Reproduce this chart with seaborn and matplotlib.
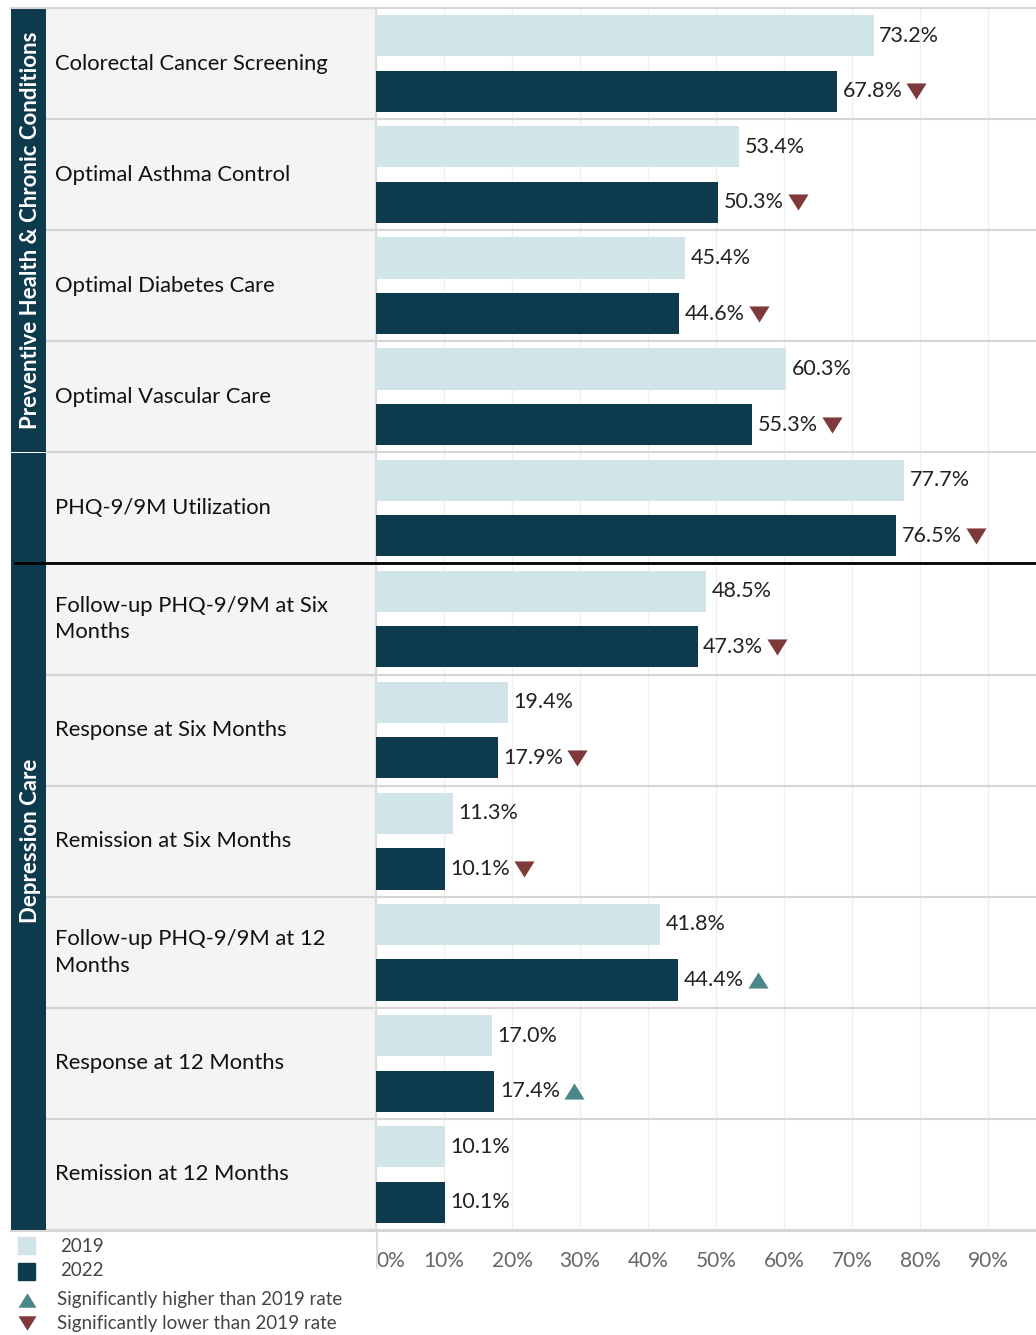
import matplotlib
matplotlib.use("Agg")
import matplotlib.pyplot as plt
from matplotlib.lines import Line2D
from matplotlib.patches import Rectangle
import seaborn as sns
import pandas as pd

# ---- data -------------------------------------------------------------
measures = [
    "Colorectal Cancer Screening",
    "Optimal Asthma Control",
    "Optimal Diabetes Care",
    "Optimal Vascular Care",
    "PHQ-9/9M Utilization",
    "Follow-up PHQ-9/9M at Six\nMonths",
    "Response at Six Months",
    "Remission at Six Months",
    "Follow-up PHQ-9/9M at 12\nMonths",
    "Response at 12 Months",
    "Remission at 12 Months",
]
rate_2019 = [73.2, 53.4, 45.4, 60.3, 77.7, 48.5, 19.4, 11.3, 41.8, 17.0, 10.1]
rate_2022 = [67.8, 50.3, 44.6, 55.3, 76.5, 47.3, 17.9, 10.1, 44.4, 17.4, 10.1]
# significance of the 2022 rate versus 2019: "down", "up" or ""
significance = ["down", "down", "down", "down", "down", "down", "down", "down",
                "up", "up", ""]
sections = ["Preventive Health & Chronic Conditions", "Depression Care"]
section_rows = [(0, 3), (4, 10)]
years = ["2019", "2022"]
x_ticks = [0, 10, 20, 30, 40, 50, 60, 70, 80, 90]

LIGHT = "#d1e5e8"
DARK = "#0e3a4e"
UP = "#4b8789"
DOWN = "#7e3a3a"

df = pd.DataFrame({
    "measure": measures * 2,
    "year": [years[0]] * len(measures) + [years[1]] * len(measures),
    "rate": rate_2019 + rate_2022,
})

# ---- figure layout (pixel based) ---------------------------------------
W, H = 1036, 1335
fig = plt.figure(figsize=(W / 100, H / 100), dpi=100)
FONT = ["Lato", "DejaVu Sans"]
plt.rcParams["font.family"] = FONT

top_px, bot_px = 8, 1230
yb = (H - bot_px) / H
yh = (bot_px - top_px) / H

def px_axes(x0, x1):
    return fig.add_axes([x0 / W, yb, (x1 - x0) / W, yh])

ax_band = px_axes(11, 46)
ax_lab = px_axes(46, 375)
ax = px_axes(376, 1036)

n = len(measures)
ylim = (n - 0.5, -0.5)

# ---- bars -------------------------------------------------------------
sns.barplot(data=df, y="measure", x="rate", hue="year", order=measures,
            hue_order=years, palette=[LIGHT, DARK], saturation=1,
            width=1.0, gap=0.26, linewidth=0, legend=False, ax=ax, zorder=3)

xmax = (1036 - 376) / 6.8
ax.set_xlim(0, xmax)
ax.set_ylim(*ylim)
ax.set_xlabel("")
ax.set_ylabel("")
ax.set_xticks(x_ticks)
ax.set_xticklabels([f"{t}%" for t in x_ticks], fontsize=15, color="#666666")
ax.get_xticklabels()[0].set_horizontalalignment("left")
ax.tick_params(axis="x", length=0, pad=15)
ax.tick_params(axis="y", left=False, labelleft=False)
ax.grid(axis="x", color="#f0f0f0", linewidth=1.0, zorder=0)
ax.grid(axis="y", visible=False)
for s in ["top", "right", "bottom"]:
    ax.spines[s].set_visible(False)
ax.spines["left"].set_color("#d6d6d6")
ax.spines["left"].set_linewidth(1.2)
ax.set_facecolor("white")

# row separators in the chart
for b in [i - 0.5 for i in range(n + 1)]:
    ax.axhline(b, color="#d6d6d6", linewidth=1.5, zorder=4)

# value labels
value_texts = []
for container, vals in zip(ax.containers, [rate_2019, rate_2022]):
    for bar, v in zip(container, vals):
        yc = bar.get_y() + bar.get_height() / 2
        t = ax.annotate(f"{v:.1f}%", xy=(v, yc), xytext=(4, 0),
                        textcoords="offset points", ha="left", va="center",
                        fontsize=15.5, color="#222222", zorder=5)
        value_texts.append(t)

# ---- label panel ------------------------------------------------------
ax_lab.set_facecolor("#f4f4f4")
ax_lab.set_xlim(0, 1)
ax_lab.set_ylim(*ylim)
ax_lab.set_xticks([])
ax_lab.set_yticks([])
for s in ax_lab.spines.values():
    s.set_visible(False)
for i, m in enumerate(measures):
    ax_lab.text(0.027, i, m, ha="left", va="center", fontsize=15.8,
                color="#111111", linespacing=1.42)
for b in [i - 0.5 for i in range(n + 1)]:
    ax_lab.axhline(b, color="#d3d3d3", linewidth=1.6)

# ---- section bands ----------------------------------------------------
ax_band.set_xlim(0, 1)
ax_band.set_ylim(*ylim)
ax_band.axis("off")
for name, (r0, r1) in zip(sections, section_rows):
    y0 = r0 - 0.5 + (0.01 if r0 > 0 else 0)
    ax_band.add_patch(Rectangle((0, y0), 1, r1 + 0.5 - y0, color=DARK,
                                linewidth=0))
    ax_band.text(0.55, (r0 + r1) / 2, name, rotation=90, ha="center",
                 va="center", fontsize=16, fontweight="bold", color="white")

# top / bottom rules across the whole table
def hline_px(y, x0, x1, color, lw):
    fig.add_artist(Line2D([x0 / W, x1 / W], [1 - y / H, 1 - y / H],
                          color=color, linewidth=lw))

hline_px(7.5, 11, 1036, "#d6d6d6", 1.5)
hline_px(1230.5, 11, 1036, "#d6d6d6", 1.5)
# heavy rule between the two groups of depression measures
hline_px(562.5, 15, 1036, "black", 2.0)
# axis stub below the chart
fig.add_artist(Line2D([376.5 / W, 376.5 / W], [1 - 1230 / H, 1 - 1268 / H],
                      color="#d6d6d6", linewidth=1.2))

# ---- significance markers ---------------------------------------------
down_marker = [(-1, 0.8), (1, 0.8), (0, -0.8), (-1, 0.8)]
up_marker = [(-1, -0.8), (1, -0.8), (0, 0.8), (-1, -0.8)]
fig.canvas.draw()
renderer = fig.canvas.get_renderer()
inv = ax.transData.inverted()
dark_bars = ax.containers[1]
for i, (sig, bar) in enumerate(zip(significance, dark_bars)):
    if not sig:
        continue
    t = value_texts[n + i]
    bb = t.get_window_extent(renderer)
    yc = bar.get_y() + bar.get_height() / 2
    xd, _ = inv.transform((bb.x1 + 14, bb.y0))
    ax.plot([xd], [yc], linestyle="none",
            marker=down_marker if sig == "down" else up_marker,
            markersize=14.5, color=DOWN if sig == "down" else UP,
            markeredgewidth=0, zorder=6, clip_on=False)

# ---- legend -----------------------------------------------------------
def fx(x):
    return x / W

def fy(y):
    return 1 - y / H

fig.patches.append(Rectangle((fx(18), fy(1254)), 17 / W, 17 / H,
                             transform=fig.transFigure, color=LIGHT,
                             figure=fig))
fig.patches.append(Rectangle((fx(18), fy(1280)), 17 / W, 17 / H,
                             transform=fig.transFigure, color=DARK,
                             figure=fig))
fig.text(fx(60), fy(1246), years[0], ha="left", va="center", fontsize=13.5,
         color="#444444")
fig.text(fx(60), fy(1271), years[1], ha="left", va="center", fontsize=13.5,
         color="#444444")
fig.add_artist(Line2D([fx(27)], [fy(1300)], marker=up_marker, markersize=13,
                      color=UP, markeredgewidth=0, linestyle="none"))
fig.add_artist(Line2D([fx(27)], [fy(1323)], marker=down_marker, markersize=13,
                      color=DOWN, markeredgewidth=0, linestyle="none"))
fig.text(fx(57), fy(1300), "Significantly higher than 2019 rate", ha="left",
         va="center", fontsize=13.5, color="#444444")
fig.text(fx(57), fy(1324), "Significantly lower than 2019 rate", ha="left",
         va="center", fontsize=13.5, color="#444444")

fig.savefig("out.png", dpi=100, facecolor="white")
